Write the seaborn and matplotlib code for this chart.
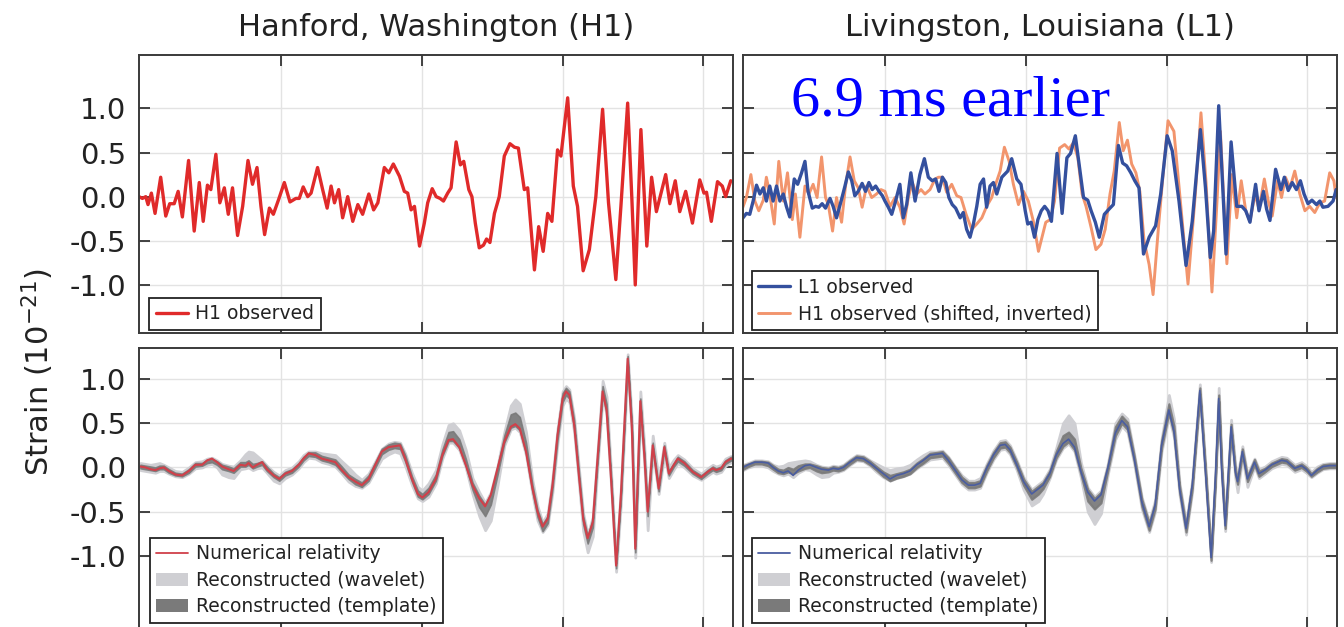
import matplotlib
matplotlib.use("Agg")
import matplotlib.pyplot as plt
import seaborn as sns
from matplotlib.lines import Line2D
from matplotlib.patches import Patch

# ---------------- data (time in s, strain in 1e-21) ----------------

# H1 observed (top left)
h1_t = [0.2496, 0.2508, 0.2520, 0.2528, 0.2540, 0.2553, 0.2573, 0.2591, 0.2605, 0.2621,
        0.2635, 0.2650, 0.2672, 0.2692, 0.2710, 0.2724, 0.2739, 0.2751, 0.2769, 0.2783,
        0.2799, 0.2813, 0.2828, 0.2846, 0.2864, 0.2883, 0.2899, 0.2915, 0.2929, 0.2942,
        0.2959, 0.2973, 0.2992, 0.3012, 0.3032, 0.3053, 0.3065, 0.3079, 0.3095, 0.3107,
        0.3130, 0.3148, 0.3164, 0.3178, 0.3190, 0.3205, 0.3219, 0.3237, 0.3255, 0.3273,
        0.3290, 0.3312, 0.3329, 0.3344, 0.3367, 0.3383, 0.3399, 0.3421, 0.3438, 0.3450,
        0.3462, 0.3474, 0.3492, 0.3509, 0.3521, 0.3537, 0.3551, 0.3565, 0.3577, 0.3592,
        0.3604, 0.3622, 0.3637, 0.3649, 0.3667, 0.3678, 0.3690, 0.3704, 0.3719, 0.3730,
        0.3742, 0.3758, 0.3775, 0.3793, 0.3813, 0.3829, 0.3843, 0.3864, 0.3876, 0.3900,
        0.3915, 0.3931, 0.3947, 0.3962, 0.3982, 0.3994, 0.4018, 0.4038, 0.4053, 0.4073,
        0.4095, 0.4118, 0.4142, 0.4163, 0.4189, 0.4207, 0.4231, 0.4246, 0.4258, 0.4278,
        0.4299, 0.4316, 0.4333, 0.4366, 0.4381, 0.4400, 0.4416, 0.4437, 0.4461, 0.4487,
        0.4502, 0.4511, 0.4528, 0.4550, 0.4567, 0.4579, 0.4597]
h1_obs = [0.00, -0.02, 0.00, -0.09, 0.04, -0.19, 0.22, -0.22, -0.08, -0.08,
          0.06, -0.23, 0.41, -0.39, 0.16, -0.28, 0.13, 0.08, 0.48, -0.07,
          0.10, -0.20, 0.10, -0.44, -0.11, 0.41, 0.14, 0.33, -0.11, -0.43,
          -0.13, -0.20, -0.03, 0.16, -0.06, -0.02, -0.02, 0.11, 0.00, 0.04,
          0.33, 0.08, -0.13, 0.12, -0.07, 0.08, -0.24, 0.00, -0.28, -0.09,
          -0.20, 0.03, -0.15, -0.07, 0.33, 0.27, 0.37, 0.23, 0.06, 0.04,
          -0.15, -0.11, -0.56, -0.30, -0.07, 0.09, 0.00, -0.02, -0.05, 0.04,
          0.10, 0.62, 0.36, 0.40, 0.08, 0.00, -0.30, -0.58, -0.55, -0.48,
          -0.52, -0.19, 0.00, 0.46, 0.60, 0.56, 0.55, 0.08, 0.10, -0.83,
          -0.34, -0.62, -0.19, -0.28, 0.53, 0.46, 1.12, 0.12, -0.11, -0.84,
          -0.60, 0.00, 0.99, -0.07, -0.94, -0.11, 1.06, -0.03, -1.00, 0.76,
          -0.56, 0.22, -0.17, 0.25, -0.08, 0.18, -0.17, 0.06, -0.30, 0.19,
          0.04, 0.05, -0.28, 0.17, 0.12, 0.00, 0.18]

# L1 observed (top right)
l1_t = [0.2496, 0.2508, 0.2520, 0.2532, 0.2544, 0.2556, 0.2568, 0.2579, 0.2591, 0.2603,
        0.2615, 0.2627, 0.2639, 0.2650, 0.2662, 0.2678, 0.2690, 0.2704, 0.2716, 0.2727,
        0.2742, 0.2754, 0.2765, 0.2777, 0.2789, 0.2805, 0.2816, 0.2828, 0.2846, 0.2858,
        0.2870, 0.2882, 0.2893, 0.2905, 0.2919, 0.2931, 0.2943, 0.2955, 0.2967, 0.2979,
        0.2991, 0.3000, 0.3012, 0.3024, 0.3036, 0.3053, 0.3065, 0.3077, 0.3092, 0.3107,
        0.3124, 0.3140, 0.3154, 0.3168, 0.3180, 0.3192, 0.3204, 0.3216, 0.3227, 0.3239,
        0.3251, 0.3267, 0.3278, 0.3290, 0.3302, 0.3314, 0.3326, 0.3338, 0.3350, 0.3361,
        0.3373, 0.3385, 0.3397, 0.3415, 0.3436, 0.3450, 0.3468, 0.3483, 0.3498, 0.3507,
        0.3519, 0.3531, 0.3543, 0.3555, 0.3567, 0.3579, 0.3591, 0.3611, 0.3629, 0.3646,
        0.3659, 0.3676, 0.3691, 0.3705, 0.3720, 0.3732, 0.3747, 0.3761, 0.3779, 0.3796,
        0.3811, 0.3829, 0.3844, 0.3858, 0.3873, 0.3887, 0.3902, 0.3918, 0.3938, 0.3961,
        0.3979, 0.4002, 0.4020, 0.4044, 0.4069, 0.4091, 0.4120, 0.4138, 0.4155, 0.4167,
        0.4185, 0.4199, 0.4211, 0.4229, 0.4249, 0.4267, 0.4281, 0.4296, 0.4316, 0.4328,
        0.4344, 0.4355, 0.4367, 0.4387, 0.4406, 0.4418, 0.4432, 0.4446, 0.4461, 0.4475,
        0.4488, 0.4502, 0.4516, 0.4532, 0.4544, 0.4555, 0.4573, 0.4591, 0.4602]
l1_obs = [-0.24, -0.19, -0.20, -0.05, 0.13, 0.03, 0.10, -0.05, 0.12, -0.05,
          0.12, -0.05, 0.03, -0.11, -0.23, 0.20, 0.14, 0.27, 0.40, 0.06,
          -0.13, -0.11, -0.12, -0.08, -0.13, -0.02, -0.11, -0.24, -0.03, 0.12,
          0.28, 0.18, 0.01, 0.06, 0.15, 0.06, 0.16, 0.08, 0.12, 0.06,
          0.01, -0.05, -0.12, -0.20, -0.07, 0.14, -0.24, -0.09, 0.27, -0.05,
          0.25, 0.43, 0.22, 0.18, 0.20, 0.06, 0.22, 0.16, -0.01, -0.09,
          -0.13, -0.24, -0.18, -0.37, -0.46, -0.31, -0.11, 0.14, 0.20, -0.12,
          0.12, 0.16, 0.03, 0.22, 0.29, 0.43, 0.20, 0.14, -0.16, -0.31,
          -0.29, -0.46, -0.26, -0.16, -0.11, -0.16, -0.28, 0.49, -0.19, 0.44,
          0.49, 0.69, 0.33, -0.01, -0.04, -0.16, -0.29, -0.46, -0.20, -0.14,
          -0.09, 0.58, 0.38, 0.35, 0.27, 0.18, 0.10, -0.65, -0.46, -0.33,
          0.03, 0.69, 0.52, -0.05, -0.78, -0.28, 0.76, 0.10, -0.69, -0.39,
          1.03, 0.12, -0.65, 0.62, -0.11, -0.11, -0.16, -0.29, 0.14, -0.16,
          0.06, -0.14, -0.27, 0.31, 0.08, 0.22, 0.07, 0.16, 0.08, 0.18,
          0.03, -0.08, -0.04, -0.09, -0.05, -0.12, -0.11, -0.05, 0.08]

# H1 observed, shifted by 6.9 ms and inverted (top right)
h1s_t = [0.2491, 0.2508, 0.2524, 0.2538, 0.2552, 0.2568, 0.2579, 0.2591, 0.2607, 0.2623,
         0.2639, 0.2654, 0.2671, 0.2682, 0.2698, 0.2716, 0.2730, 0.2745, 0.2759, 0.2775,
         0.2789, 0.2799, 0.2814, 0.2828, 0.2846, 0.2860, 0.2876, 0.2891, 0.2905, 0.2919,
         0.2935, 0.2953, 0.2970, 0.2986, 0.3000, 0.3018, 0.3036, 0.3053, 0.3068, 0.3083,
         0.3097, 0.3113, 0.3128, 0.3142, 0.3160, 0.3178, 0.3190, 0.3204, 0.3219, 0.3237,
         0.3255, 0.3270, 0.3288, 0.3308, 0.3326, 0.3344, 0.3361, 0.3379, 0.3393, 0.3409,
         0.3424, 0.3441, 0.3456, 0.3474, 0.3492, 0.3509, 0.3527, 0.3545, 0.3571, 0.3587,
         0.3602, 0.3620, 0.3638, 0.3653, 0.3669, 0.3685, 0.3700, 0.3714, 0.3732, 0.3749,
         0.3767, 0.3782, 0.3799, 0.3814, 0.3832, 0.3846, 0.3861, 0.3876, 0.3891, 0.3905,
         0.3920, 0.3938, 0.3952, 0.3971, 0.3985, 0.4005, 0.4026, 0.4049, 0.4076, 0.4102,
         0.4122, 0.4140, 0.4161, 0.4179, 0.4191, 0.4202, 0.4214, 0.4232, 0.4249, 0.4265,
         0.4281, 0.4296, 0.4314, 0.4328, 0.4347, 0.4361, 0.4375, 0.4394, 0.4408, 0.4422,
         0.4438, 0.4455, 0.4473, 0.4491, 0.4508, 0.4526, 0.4544, 0.4561, 0.4579, 0.4594,
         0.4602]
h1s_obs = [-0.16, -0.01, 0.25, -0.05, -0.16, -0.04, 0.22, 0.03, -0.31, 0.40,
           -0.05, 0.27, -0.26, 0.03, -0.46, 0.12, 0.03, 0.14, -0.01, 0.45,
           -0.01, -0.09, -0.39, -0.01, -0.29, 0.12, 0.45, 0.18, 0.10, -0.12,
           0.12, -0.01, 0.03, 0.08, 0.06, -0.11, -0.01, -0.12, -0.31, -0.01,
           0.16, 0.03, 0.08, 0.03, 0.08, 0.20, 0.22, 0.22, 0.05, 0.14,
           0.01, -0.01, -0.20, -0.37, -0.31, -0.24, -0.11, -0.01, 0.14, 0.29,
           0.56, 0.40, 0.14, -0.09, 0.06, -0.05, -0.28, -0.62, -0.29, -0.26,
           -0.05, 0.55, 0.59, 0.54, 0.61, 0.44, 0.03, -0.11, -0.35, -0.60,
           -0.54, -0.37, 0.03, 0.29, 0.84, 0.52, 0.64, 0.37, 0.27, 0.06,
           -0.50, -0.77, -1.11, -0.35, 0.16, 0.86, 0.74, -0.05, -0.99, 0.03,
           0.95, 0.16, -1.08, -0.05, 0.74, 0.03, -0.76, 0.25, -0.24, 0.18,
           -0.16, -0.28, 0.03, -0.14, 0.20, -0.05, -0.22, 0.18, -0.01, 0.22,
           0.10, 0.29, 0.03, -0.16, -0.11, -0.18, -0.07, -0.05, 0.27, 0.18,
           -0.01]

# Hanford reconstruction (bottom left)
hr_t = [0.2501, 0.2519, 0.2537, 0.2554, 0.2569, 0.2584, 0.2602, 0.2625, 0.2649, 0.2673,
        0.2696, 0.2720, 0.2738, 0.2755, 0.2773, 0.2791, 0.2814, 0.2832, 0.2856, 0.2874,
        0.2885, 0.2900, 0.2915, 0.2933, 0.2950, 0.2974, 0.2994, 0.3015, 0.3039, 0.3063,
        0.3080, 0.3098, 0.3122, 0.3145, 0.3169, 0.3193, 0.3216, 0.3240, 0.3264, 0.3287,
        0.3311, 0.3335, 0.3358, 0.3382, 0.3403, 0.3423, 0.3441, 0.3465, 0.3486, 0.3502,
        0.3524, 0.3550, 0.3573, 0.3595, 0.3611, 0.3633, 0.3656, 0.3680, 0.3704, 0.3725,
        0.3745, 0.3769, 0.3793, 0.3816, 0.3832, 0.3848, 0.3870, 0.3893, 0.3911, 0.3929,
        0.3947, 0.3964, 0.3982, 0.4000, 0.4012, 0.4024, 0.4041, 0.4059, 0.4073, 0.4089,
        0.4107, 0.4124, 0.4142, 0.4156, 0.4172, 0.4190, 0.4207, 0.4231, 0.4246, 0.4258,
        0.4276, 0.4290, 0.4302, 0.4320, 0.4341, 0.4361, 0.4377, 0.4395, 0.4409, 0.4432,
        0.4462, 0.4492, 0.4515, 0.4533, 0.4545, 0.4563, 0.4578, 0.4598, 0.4616]
hr_nr = [0.01, 0.00, -0.02, -0.03, -0.01, 0.00, -0.04, -0.08, -0.09, -0.04,
         0.03, 0.03, 0.08, 0.10, 0.06, 0.01, -0.02, -0.04, 0.03, 0.02,
         0.05, 0.00, 0.03, 0.06, -0.02, -0.09, -0.13, -0.07, -0.04, 0.03,
         0.10, 0.16, 0.14, 0.10, 0.08, 0.06, -0.03, -0.11, -0.16, -0.20,
         -0.13, 0.03, 0.18, 0.23, 0.24, 0.25, 0.10, -0.13, -0.30, -0.34,
         -0.28, -0.13, 0.14, 0.31, 0.32, 0.23, 0.03, -0.20, -0.35, -0.44,
         -0.31, -0.01, 0.29, 0.46, 0.49, 0.44, 0.18, -0.24, -0.50, -0.67,
         -0.58, -0.20, 0.37, 0.78, 0.86, 0.82, 0.48, -0.13, -0.58, -0.80,
         -0.62, 0.10, 0.86, 0.65, -0.13, -1.11, -0.31, 1.23, 0.44, -0.92,
         0.75, 0.14, -0.50, 0.25, -0.24, 0.23, -0.07, 0.03, 0.10, 0.05,
         -0.05, -0.11, -0.05, -0.01, -0.03, -0.01, 0.06, 0.10, 0.08]
hr_wav_lo = [-0.03, -0.04, -0.05, -0.06, -0.04, -0.04, -0.07, -0.10, -0.11, -0.07,
             -0.01, 0.00, 0.03, 0.04, 0.00, -0.08, -0.11, -0.12, -0.02, -0.01,
             0.00, -0.03, -0.01, 0.00, -0.06, -0.15, -0.18, -0.12, -0.08, -0.01,
             0.06, 0.11, 0.10, 0.06, 0.04, 0.01, -0.07, -0.16, -0.21, -0.23,
             -0.17, -0.03, 0.10, 0.15, 0.18, 0.16, 0.02, -0.20, -0.35, -0.38,
             -0.33, -0.18, 0.10, 0.28, 0.28, 0.20, 0.00, -0.30, -0.55, -0.71,
             -0.60, -0.20, 0.25, 0.43, 0.45, 0.40, 0.14, -0.30, -0.60, -0.73,
             -0.65, -0.28, 0.28, 0.70, 0.78, 0.74, 0.40, -0.22, -0.72, -0.96,
             -0.78, 0.02, 0.80, 0.60, -0.20, -1.18, -0.40, 1.15, 0.35, -1.02,
             0.66, 0.05, -0.71, 0.18, -0.30, 0.15, -0.12, -0.02, 0.05, 0.00,
             -0.09, -0.14, -0.09, -0.05, -0.07, -0.05, 0.02, 0.06, 0.04]
hr_wav_hi = [0.05, 0.04, 0.03, 0.04, 0.05, 0.03, 0.00, -0.04, -0.05, 0.00,
             0.06, 0.07, 0.10, 0.11, 0.08, 0.04, 0.02, 0.01, 0.08, 0.15,
             0.18, 0.17, 0.13, 0.08, 0.02, -0.05, -0.09, -0.03, 0.00, 0.07,
             0.14, 0.18, 0.18, 0.16, 0.15, 0.14, 0.07, 0.00, -0.08, -0.14,
             -0.07, 0.07, 0.21, 0.27, 0.29, 0.28, 0.16, -0.06, -0.22, -0.26,
             -0.18, -0.03, 0.26, 0.48, 0.50, 0.42, 0.20, -0.12, -0.28, -0.40,
             -0.28, 0.02, 0.40, 0.70, 0.77, 0.72, 0.40, -0.15, -0.44, -0.62,
             -0.52, -0.12, 0.44, 0.86, 0.92, 0.88, 0.56, -0.05, -0.52, -0.76,
             -0.56, 0.18, 0.98, 0.80, -0.05, -1.05, -0.22, 1.28, 0.52, -0.82,
             0.86, 0.24, -0.45, 0.36, -0.14, 0.28, 0.00, 0.09, 0.14, 0.09,
             -0.01, -0.07, -0.01, 0.03, 0.01, 0.03, 0.10, 0.13, 0.11]
hr_tpl_lo = [-0.01, -0.02, -0.03, -0.04, -0.02, -0.02, -0.06, -0.09, -0.10, -0.06,
             0.01, 0.02, 0.05, 0.06, 0.03, -0.02, -0.04, -0.06, 0.01, 0.01,
             0.03, -0.01, 0.01, 0.03, -0.04, -0.11, -0.15, -0.09, -0.06, 0.01,
             0.08, 0.13, 0.12, 0.08, 0.06, 0.03, -0.05, -0.13, -0.19, -0.22,
             -0.15, 0.00, 0.15, 0.20, 0.22, 0.21, 0.07, -0.16, -0.33, -0.36,
             -0.30, -0.15, 0.13, 0.30, 0.30, 0.22, 0.02, -0.25, -0.45, -0.55,
             -0.42, -0.08, 0.28, 0.45, 0.47, 0.42, 0.16, -0.27, -0.56, -0.72,
             -0.63, -0.24, 0.32, 0.74, 0.82, 0.78, 0.45, -0.17, -0.64, -0.86,
             -0.68, 0.06, 0.83, 0.62, -0.16, -1.14, -0.34, 1.20, 0.40, -0.96,
             0.72, 0.10, -0.55, 0.22, -0.27, 0.20, -0.09, 0.01, 0.07, 0.02,
             -0.07, -0.13, -0.07, -0.03, -0.05, -0.03, 0.04, 0.08, 0.06]
hr_tpl_hi = [0.03, 0.02, 0.01, 0.00, 0.02, 0.02, -0.02, -0.06, -0.07, -0.02,
             0.05, 0.05, 0.09, 0.10, 0.07, 0.03, 0.01, -0.01, 0.06, 0.06,
             0.08, 0.04, 0.05, 0.07, 0.01, -0.07, -0.11, -0.05, -0.02, 0.05,
             0.12, 0.17, 0.17, 0.13, 0.11, 0.09, 0.01, -0.08, -0.13, -0.17,
             -0.09, 0.06, 0.21, 0.26, 0.28, 0.27, 0.14, -0.10, -0.26, -0.30,
             -0.23, -0.08, 0.20, 0.40, 0.41, 0.32, 0.10, -0.17, -0.32, -0.42,
             -0.30, 0.01, 0.36, 0.60, 0.62, 0.57, 0.28, -0.20, -0.48, -0.64,
             -0.55, -0.16, 0.42, 0.84, 0.90, 0.86, 0.53, -0.09, -0.55, -0.78,
             -0.58, 0.14, 0.92, 0.72, -0.10, -1.08, -0.28, 1.26, 0.48, -0.88,
             0.78, 0.18, -0.47, 0.28, -0.21, 0.25, -0.04, 0.05, 0.12, 0.07,
             -0.03, -0.09, -0.03, 0.01, -0.01, 0.01, 0.08, 0.12, 0.10]

# Livingston reconstruction (bottom right)
lr_t = [0.2496, 0.2514, 0.2538, 0.2562, 0.2585, 0.2603, 0.2621, 0.2639, 0.2656, 0.2674,
        0.2692, 0.2716, 0.2733, 0.2757, 0.2775, 0.2799, 0.2816, 0.2834, 0.2852, 0.2876,
        0.2899, 0.2923, 0.2947, 0.2970, 0.2994, 0.3018, 0.3041, 0.3065, 0.3089, 0.3113,
        0.3136, 0.3160, 0.3184, 0.3204, 0.3225, 0.3249, 0.3273, 0.3296, 0.3318, 0.3338,
        0.3361, 0.3385, 0.3409, 0.3427, 0.3444, 0.3468, 0.3492, 0.3521, 0.3545, 0.3561,
        0.3585, 0.3608, 0.3632, 0.3652, 0.3673, 0.3696, 0.3720, 0.3744, 0.3767, 0.3791,
        0.3818, 0.3841, 0.3861, 0.3885, 0.3912, 0.3938, 0.3959, 0.3982, 0.4008, 0.4026,
        0.4046, 0.4069, 0.4091, 0.4118, 0.4138, 0.4158, 0.4173, 0.4185, 0.4196, 0.4208,
        0.4229, 0.4244, 0.4252, 0.4269, 0.4287, 0.4312, 0.4328, 0.4349, 0.4373, 0.4408,
        0.4426, 0.4455, 0.4479, 0.4496, 0.4514, 0.4535, 0.4555, 0.4579, 0.4602]
lr_nr = [0.00, 0.03, 0.06, 0.06, 0.05, 0.00, -0.04, -0.06, -0.04, -0.09,
         -0.03, 0.02, 0.03, 0.00, -0.02, -0.03, -0.01, -0.02, 0.00, 0.06,
         0.11, 0.10, 0.05, -0.01, -0.07, -0.13, -0.09, -0.07, -0.04, 0.03,
         0.08, 0.14, 0.15, 0.16, 0.08, -0.03, -0.14, -0.20, -0.20, -0.18,
         -0.01, 0.14, 0.25, 0.26, 0.20, 0.03, -0.16, -0.30, -0.24, -0.20,
         -0.07, 0.14, 0.27, 0.32, 0.23, -0.05, -0.28, -0.38, -0.31, -0.01,
         0.39, 0.53, 0.46, 0.10, -0.39, -0.67, -0.43, 0.25, 0.65, 0.41,
         -0.24, -0.69, -0.20, 0.87, -0.05, -1.02, -0.13, 0.78, -0.05, -0.66,
         0.46, -0.05, -0.16, 0.18, -0.13, 0.06, -0.07, -0.03, 0.03, 0.08,
         0.07, -0.01, 0.02, -0.02, -0.09, -0.03, 0.01, 0.02, 0.02]
lr_wav_lo = [-0.03, 0.00, 0.02, 0.02, 0.00, -0.04, -0.07, -0.09, -0.07, -0.11,
             -0.06, -0.02, -0.03, -0.08, -0.11, -0.10, -0.06, -0.05, -0.03, 0.03,
             0.08, 0.07, 0.02, -0.05, -0.11, -0.15, -0.12, -0.10, -0.07, -0.01,
             0.04, 0.09, 0.10, 0.11, 0.03, -0.08, -0.19, -0.25, -0.25, -0.23,
             -0.06, 0.09, 0.20, 0.21, 0.15, -0.03, -0.25, -0.43, -0.38, -0.30,
             -0.12, 0.09, 0.22, 0.27, 0.18, -0.12, -0.50, -0.64, -0.52, -0.08,
             0.32, 0.47, 0.40, 0.04, -0.47, -0.73, -0.50, 0.18, 0.58, 0.34,
             -0.31, -0.76, -0.27, 0.80, -0.12, -1.07, -0.20, 0.72, -0.12, -0.72,
             0.40, -0.12, -0.28, 0.12, -0.22, 0.01, -0.12, -0.07, -0.01, 0.04,
             0.03, -0.05, -0.02, -0.06, -0.11, -0.06, -0.02, -0.01, -0.01]
lr_wav_hi = [0.03, 0.05, 0.08, 0.08, 0.07, 0.03, 0.01, 0.02, 0.05, 0.06,
             0.07, 0.08, 0.07, 0.03, 0.01, 0.00, 0.02, 0.01, 0.03, 0.09,
             0.14, 0.13, 0.08, 0.04, 0.00, -0.03, -0.01, 0.00, 0.03, 0.09,
             0.14, 0.18, 0.18, 0.19, 0.12, 0.01, -0.09, -0.15, -0.15, -0.12,
             0.04, 0.19, 0.30, 0.31, 0.25, 0.08, -0.11, -0.25, -0.19, -0.15,
             -0.02, 0.22, 0.50, 0.59, 0.50, 0.05, -0.23, -0.33, -0.26, 0.04,
             0.50, 0.61, 0.55, 0.15, -0.34, -0.61, -0.37, 0.32, 0.82, 0.55,
             -0.18, -0.63, -0.14, 0.94, 0.02, -0.97, -0.06, 0.90, 0.02, -0.60,
             0.54, 0.02, -0.10, 0.24, -0.08, 0.10, -0.02, 0.01, 0.07, 0.12,
             0.11, 0.03, 0.06, 0.02, -0.05, 0.01, 0.04, 0.05, 0.05]
lr_tpl_lo = [-0.02, 0.01, 0.04, 0.04, 0.02, -0.02, -0.06, -0.07, -0.05, -0.07,
             -0.04, -0.01, 0.00, -0.04, -0.06, -0.05, -0.03, -0.04, -0.02, 0.04,
             0.09, 0.08, 0.03, -0.03, -0.10, -0.15, -0.12, -0.10, -0.07, 0.00,
             0.05, 0.11, 0.12, 0.13, 0.05, -0.06, -0.17, -0.23, -0.23, -0.21,
             -0.04, 0.11, 0.22, 0.23, 0.17, 0.00, -0.20, -0.36, -0.30, -0.24,
             -0.10, 0.11, 0.24, 0.29, 0.20, -0.08, -0.38, -0.47, -0.40, -0.04,
             0.36, 0.50, 0.43, 0.07, -0.44, -0.71, -0.47, 0.22, 0.62, 0.38,
             -0.28, -0.73, -0.24, 0.83, -0.08, -1.05, -0.16, 0.75, -0.08, -0.69,
             0.43, -0.08, -0.19, 0.15, -0.16, 0.03, -0.10, -0.05, 0.01, 0.06,
             0.05, -0.03, 0.00, -0.04, -0.10, -0.05, -0.01, 0.00, 0.00]
lr_tpl_hi = [0.02, 0.04, 0.07, 0.07, 0.06, 0.02, -0.02, -0.03, 0.00, -0.02,
             0.02, 0.04, 0.04, 0.02, 0.00, -0.01, 0.01, 0.00, 0.02, 0.08,
             0.13, 0.12, 0.07, 0.01, -0.05, -0.09, -0.07, -0.05, -0.02, 0.05,
             0.10, 0.16, 0.17, 0.18, 0.11, 0.00, -0.11, -0.17, -0.17, -0.15,
             0.02, 0.17, 0.28, 0.29, 0.23, 0.06, -0.13, -0.27, -0.21, -0.17,
             -0.04, 0.18, 0.36, 0.40, 0.32, -0.01, -0.25, -0.35, -0.28, 0.02,
             0.46, 0.58, 0.51, 0.13, -0.36, -0.63, -0.40, 0.30, 0.72, 0.47,
             -0.21, -0.66, -0.17, 0.90, -0.02, -0.99, -0.10, 0.82, -0.02, -0.63,
             0.49, -0.02, -0.13, 0.21, -0.10, 0.09, -0.04, -0.01, 0.05, 0.10,
             0.09, 0.01, 0.04, 0.00, -0.07, -0.01, 0.03, 0.04, 0.04]

x_ticks = [0.30, 0.35, 0.40, 0.45]
y_ticks = [-1.0, -0.5, 0.0, 0.5, 1.0]

# ---------------- styling ----------------
sns.set_theme(style="whitegrid")
plt.rcParams["font.family"] = ["DejaVu Sans"]
plt.rcParams["axes.unicode_minus"] = False

RED = "#e02a2a"
BLUE = "#34509e"
SALMON = "#f2956d"
NR_RED = "#d0404a"
NR_BLUE = "#4a5da0"
LIGHT = "#cfcfd3"
DARK = "#7a7a7a"
TXT = "#222222"

W, H = 1344, 627
fig = plt.figure(figsize=(W / 100, H / 100), dpi=100)
fig.patch.set_facecolor("white")


def px_axes(left, right, top, bottom):
    return fig.add_axes([left / W, 1 - bottom / H, (right - left) / W, (bottom - top) / H])


ax_h = px_axes(139, 733, 55, 333)
ax_l = px_axes(743, 1337, 55, 333)
ax_hr = px_axes(139, 733, 348, 628)
ax_lr = px_axes(743, 1337, 348, 628)

for ax in (ax_h, ax_l, ax_hr, ax_lr):
    ax.set_facecolor("white")
    ax.set_xlim(0.2496, 0.4605)
    ax.set_xticks(x_ticks)
    ax.set_yticks(y_ticks)
    ax.grid(True, color="#e3e3e3", lw=1.0)
    ax.set_axisbelow(True)
    ax.tick_params(direction="in", length=8, width=1.3, color="#333333",
                   top=True, right=True, bottom=True, left=True,
                   labelbottom=False, labelsize=21, labelcolor=TXT, pad=9)
    for s in ax.spines.values():
        s.set_color("#3a3a3a")
        s.set_linewidth(1.4)

for ax in (ax_h, ax_l):
    ax.set_ylim(-1.545, 1.605)
for ax in (ax_hr, ax_lr):
    ax.set_ylim(-1.816, 1.351)
for ax in (ax_l, ax_lr):
    ax.tick_params(labelleft=False)
for ax in (ax_h, ax_hr):
    ax.set_yticklabels([f"{v:.1f}" for v in y_ticks])

# top left
sns.lineplot(x=h1_t, y=h1_obs, ax=ax_h, color=RED, lw=2.4, sort=False, estimator=None, legend=False)

# top right
sns.lineplot(x=h1s_t, y=h1s_obs, ax=ax_l, color=SALMON, lw=2.1, sort=False, estimator=None, legend=False)
sns.lineplot(x=l1_t, y=l1_obs, ax=ax_l, color=BLUE, lw=2.4, sort=False, estimator=None, legend=False)

# bottom panels: wavelet band, template band, numerical relativity on top
ax_hr.fill_between(hr_t, hr_wav_lo, hr_wav_hi, facecolor=LIGHT, edgecolor=LIGHT, lw=2.0)
ax_hr.fill_between(hr_t, hr_tpl_lo, hr_tpl_hi, facecolor=DARK, edgecolor=DARK, lw=1.2, alpha=0.9)
sns.lineplot(x=hr_t, y=hr_nr, ax=ax_hr, color=NR_RED, lw=1.5, sort=False, estimator=None, legend=False)

ax_lr.fill_between(lr_t, lr_wav_lo, lr_wav_hi, facecolor=LIGHT, edgecolor=LIGHT, lw=2.0)
ax_lr.fill_between(lr_t, lr_tpl_lo, lr_tpl_hi, facecolor=DARK, edgecolor=DARK, lw=1.6, alpha=0.9)
sns.lineplot(x=lr_t, y=lr_nr, ax=ax_lr, color=NR_BLUE, lw=1.2, sort=False, estimator=None, legend=False)

# legends
leg_kw = dict(loc="lower left", fontsize=13.5, frameon=True, fancybox=False,
              framealpha=1, edgecolor="#222222", borderpad=0.35, labelspacing=0.4,
              handlelength=1.7, handletextpad=0.4, borderaxespad=0)


def style_legend(leg):
    leg.get_frame().set_linewidth(1.3)
    for t in leg.get_texts():
        t.set_color(TXT)


style_legend(ax_h.legend([Line2D([], [], color=RED, lw=2.4)], ["H1 observed"],
                         bbox_to_anchor=(0.017, 0.011), **leg_kw))
style_legend(ax_l.legend([Line2D([], [], color=BLUE, lw=2.4), Line2D([], [], color=SALMON, lw=2.1)],
                         ["L1 observed", "H1 observed (shifted, inverted)"],
                         bbox_to_anchor=(0.015, 0.011), **leg_kw))
for ax, nr_col, anchor in ((ax_hr, NR_RED, (0.018, 0.018)), (ax_lr, NR_BLUE, (0.015, 0.018))):
    handles = [Line2D([], [], color=nr_col, lw=1.3),
               Patch(facecolor=LIGHT, edgecolor="none"),
               Patch(facecolor=DARK, edgecolor="none")]
    style_legend(ax.legend(handles, ["Numerical relativity", "Reconstructed (wavelet)",
                                     "Reconstructed (template)"],
                           bbox_to_anchor=anchor, **leg_kw))

# titles and labels
ax_h.set_title("Hanford, Washington (H1)", fontsize=22, pad=14, color=TXT)
ax_l.set_title("Livingston, Louisiana (L1)", fontsize=22, pad=14, color=TXT)
fig.text(38 / W, 1 - 372 / H, "Strain (10$^{-21}$)", rotation=90, fontsize=22,
         ha="center", va="center", color=TXT)
fig.text(791 / W, 1 - 115 / H, "6.9 ms earlier", fontsize=42, color="#0000ff",
         family=["Liberation Serif", "DejaVu Serif"], ha="left", va="baseline")

fig.savefig("out.png", dpi=100)
